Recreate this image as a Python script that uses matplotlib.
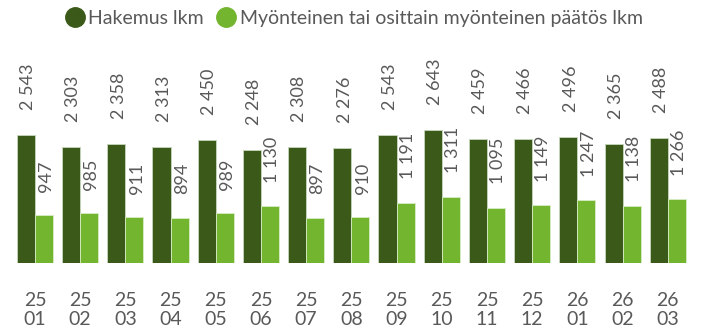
import numpy as np
import matplotlib.pyplot as plt

plt.rcParams['font.family'] = ['Lato', 'DejaVu Sans']

# monthly counts, yy/mm
months = ['25\n01', '25\n02', '25\n03', '25\n04', '25\n05', '25\n06', '25\n07', '25\n08',
          '25\n09', '25\n10', '25\n11', '25\n12', '26\n01', '26\n02', '26\n03']
hakemus = [2543, 2303, 2358, 2313, 2450, 2248, 2308, 2276, 2543, 2643, 2459, 2466, 2496, 2365, 2488]
myonteinen = [947, 985, 911, 894, 989, 1130, 897, 910, 1191, 1311, 1095, 1149, 1247, 1138, 1266]

dark = '#3b5a1a'
light = '#74b52f'
txt = '#595959'


def fmt(v):
    return '{:,}'.format(v).replace(',', ' ')


fig = plt.figure(figsize=(7.07, 3.34), dpi=100)
ax = fig.add_axes([0.0175, 0.2126, 0.959, 0.668])

x = np.arange(len(months))
w = 0.4
b1 = ax.bar(x - w / 2, hakemus, w, color=dark, edgecolor='#c8d8bc', linewidth=0.6,
            label='Hakemus lkm')
b2 = ax.bar(x + w / 2, myonteinen, w, color=light, edgecolor='#d8ecc6', linewidth=0.6,
            label='Myönteinen tai osittain myönteinen päätös lkm')

for rect, v in zip(b1, hakemus):
    ax.annotate(fmt(v), (rect.get_x() + rect.get_width() / 2 + 0.05, v),
                xytext=(0, 18), textcoords='offset points', rotation=90,
                ha='center', va='bottom', fontsize=13, color=txt)
for rect, v in zip(b2, myonteinen):
    ax.annotate(fmt(v), (rect.get_x() + rect.get_width() / 2 + 0.05, v),
                xytext=(0, 17), textcoords='offset points', rotation=90,
                ha='center', va='bottom', fontsize=13, color=txt)

ax.set_xlim(-0.5, len(months) - 0.5)
ax.set_ylim(0, 4433)
ax.set_xticks(x)
ax.set_xticklabels(months, fontsize=14, color=txt, linespacing=1.15)
ax.tick_params(axis='x', length=0, pad=21)
ax.set_yticks([])
for s in ax.spines.values():
    s.set_visible(False)

handles = [plt.Line2D([], [], marker='o', linestyle='', markersize=14, color=dark),
           plt.Line2D([], [], marker='o', linestyle='', markersize=14, color=light)]
fig.legend(handles, ['Hakemus lkm', 'Myönteinen tai osittain myönteinen päätös lkm'],
           loc='center', bbox_to_anchor=(0.5, 0.945), ncol=2, frameon=False,
           fontsize=14, labelcolor=txt, handletextpad=0.15, columnspacing=0.6,
           handlelength=1.1)

fig.savefig('out.png', dpi=100)
